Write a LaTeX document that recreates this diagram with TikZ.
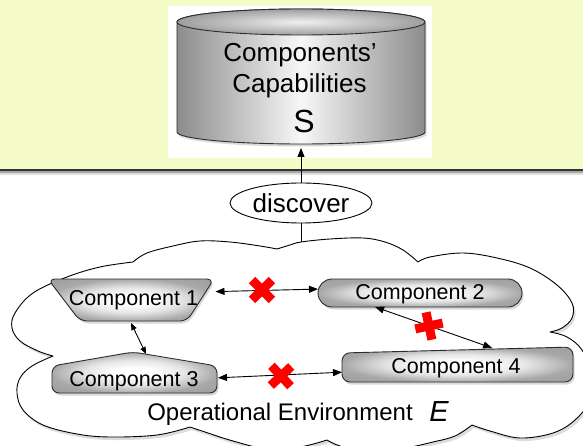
\documentclass[tikz,border=0pt]{standalone}
\usepackage{fontspec}
\setmainfont{Liberation Sans}
\usetikzlibrary{arrows.meta,shapes.geometric,shadows,calc}

\definecolor{bandyellow}{RGB}{245,252,199}
\definecolor{xred}{RGB}{255,0,0}
\definecolor{edgegray}{RGB}{45,45,45}

\newcommand\fsz[1]{\fontsize{#1}{#1}\selectfont}

% soft grey fill for the component shapes: white core, grey rim
\pgfdeclareradialshading{compshade}{\pgfpoint{0bp}{0bp}}{%
  color(0bp)=(white); color(6bp)=(white); color(15bp)=(white!90!black);
  color(25bp)=(black!34); color(50bp)=(black!45)}

\tikzset{
  box/.style={inner sep=0pt, outer sep=0pt, draw=none},
  soft shadow/.style={drop shadow={shadow xshift=1.5pt, shadow yshift=-2.5pt, opacity=0.3}},
  comp/.style={draw=edgegray, line width=0.9pt, line join=round,
    shading=compshade, soft shadow},
  cylbody/.style={draw=edgegray, line width=0.9pt,
    left color=black!45, right color=black!45, middle color=black!3, soft shadow},
  cyltop/.style={draw=edgegray, line width=0.9pt,
    inner color=black!6, outer color=black!38},
  cloud/.style={draw=black, line width=0.9pt, fill=white, line join=round,
    drop shadow={shadow xshift=2pt, shadow yshift=-3pt, opacity=0.28}},
  link/.style={line width=0.9pt,
    {Triangle[length=9pt,width=7pt]}-{Triangle[length=9pt,width=7pt]}},
  shortlink/.style={line width=0.9pt,
    {Triangle[length=7pt,width=5.5pt]}-{Triangle[length=7pt,width=5.5pt]}},
  uplink/.style={line width=0.9pt, -{Triangle[length=9pt,width=7pt]}},
  plainlink/.style={line width=0.9pt},
  compname/.style={anchor=base, inner sep=0pt, font=\fsz{21.5}},
  bigtext/.style={anchor=base, inner sep=0pt, font=\fsz{26}},
  blocked/.pic={\draw[xred, line width=9pt] (-14pt,0) -- (14pt,0) (0,-14pt) -- (0,14pt);}
}

\begin{document}
\begin{tikzpicture}[x=1pt,y=-1pt]
\useasboundingbox (0,0) rectangle (583,446);
\clip (0,0) rectangle (583,446);

% upper panel
\fill[bandyellow] (0,0) rectangle (583,169);
\fill[black!80] (0,169) rectangle (583,171.5);
\fill[black!35] (0,171.5) rectangle (583,173);
\fill[black!12] (0,173) rectangle (583,175);
\fill[white] (168,6) rectangle (432,158);

% capability store (cylinder)
\path[cylbody] (177,22) -- (177,132)
  arc[start angle=180,end angle=360,x radius=124pt,y radius=12pt]
  -- (425,22)
  arc[start angle=0,end angle=180,x radius=124pt,y radius=13pt] -- cycle;
\path[cyltop] (301,22) ellipse[x radius=124pt, y radius=13pt];
\node[box, minimum width=248pt, minimum height=135pt] (db) at (301,76.5) {};
\node[bigtext] (captxt1) at (300,62) {Components’};
\node[bigtext] (captxt2) at (299.5,93) {Capabilities};
\node[anchor=base, inner sep=0pt, font=\fsz{32}] (stxt) at (304,133) {S};

% operational environment cloud
\path[cloud]
  plot[smooth,tension=0.6] coordinates {(133,262) (147,253) (173,246) (200,241) (230,242) (260,246) (277,249)}
  -- plot[smooth,tension=0.6] coordinates {(277,249) (290,245) (301,242) (330,239) (363,238) (385,242) (403,250) (418,262)}
  -- plot[smooth,tension=0.6] coordinates {(418,262) (430,257) (463,253) (497,258) (530,268) (557,285) (572,303) (572,318) (562,328) (550,332)}
  -- plot[smooth,tension=0.6] coordinates {(550,332) (567,337) (582,350) (592,375) (590,400) (575,420) (553,433) (520,438) (490,431) (472,425)}
  -- plot[smooth,tension=0.6] coordinates {(472,425) (455,436) (433,442) (400,449) (365,451) (340,446) (327,440)}
  -- plot[smooth,tension=0.6] coordinates {(327,440) (300,447) (267,449) (233,441) (205,432) (190,427)}
  -- plot[smooth,tension=0.6] coordinates {(190,427) (157,435) (110,437) (77,434) (43,425) (23,410) (17,393) (20,378) (32,366) (53,356)}
  -- plot[smooth,tension=0.6] coordinates {(53,356) (38,351) (20,341) (12,328) (15,313) (33,293) (67,277) (100,267) (133,262)}
  -- cycle;
\coordinate (cloudtop) at (301,242);

% discovery step
\node[draw, ellipse, line width=0.9pt, fill=white, inner sep=0pt,
      minimum width=142pt, minimum height=40pt, font=\fsz{26}] (disc) at (301,203) {discover};
\draw[uplink] (disc.north) -- ([yshift=-4pt]db.south);
\draw[plainlink] (disc.south) -- (cloudtop);

% components
\path[comp, rounded corners=7pt] (48,279) -- (214,279) -- (187,321) -- (80,321) -- cycle;
\path[comp, rounded corners=14pt] (318,279) -- (522,279) -- (522,307) -- (318,307) -- cycle;
\path[comp, rounded corners=7pt] (52,393) -- (52,366) -- (133,352) -- (217,366) -- (217,393) -- cycle;
\path[comp, rounded corners=8pt] (342,353) -- (573,347) -- (573,382) -- (342,382) -- cycle;

\node[box, minimum width=166pt, minimum height=42pt] (c1) at (131,300) {};
\node[box, minimum width=204pt, minimum height=28pt] (c2) at (420,293) {};
\node[box, minimum width=165pt, minimum height=41pt] (c3) at (134.5,372.5) {};
\node[box, minimum width=231pt, minimum height=35pt] (c4) at (457.5,364.5) {};

\node[compname] (c1txt) at (133.5,305) {Component 1};
\node[compname] (c2txt) at (420,299.5) {Component 2};
\node[compname] (c3txt) at (134,386.5) {Component 3};
\node[compname] (c4txt) at (456,373) {Component 4};

% interactions between components
\draw[link] ($(c1.north east)!0.3!(c1.south east)+(1.5,0)$) -- ($(c2.north west)!0.36!(c2.south west)$);
\draw[shortlink] ([yshift=-2pt]c1.south) -- ($(c3.north west)!0.57!(c3.north east)+(0,2)$);
\draw[link] ($(c2.south west)!0.28!(c2.south east)$) -- ($(c4.north west)!0.65!(c4.north east)+(0,1)$);
\draw[link] ($(c3.north east)!0.63!(c3.south east)+(1,0)$) -- ($(c4.north west)!0.72!(c4.south west)$);

% broken links
\pic[rotate=45] at (262,290) {blocked};
\pic[rotate=12] at (429,326) {blocked};
\pic[rotate=43] at (281,376) {blocked};

% environment label
\node[anchor=base, inner sep=0pt, font=\fsz{24}] (envtxt) at (280,420) {Operational Environment};
\node[anchor=base, inner sep=0pt, font=\fsz{29}\itshape] (etxt) at (439,421) {E};
\end{tikzpicture}
\end{document}
